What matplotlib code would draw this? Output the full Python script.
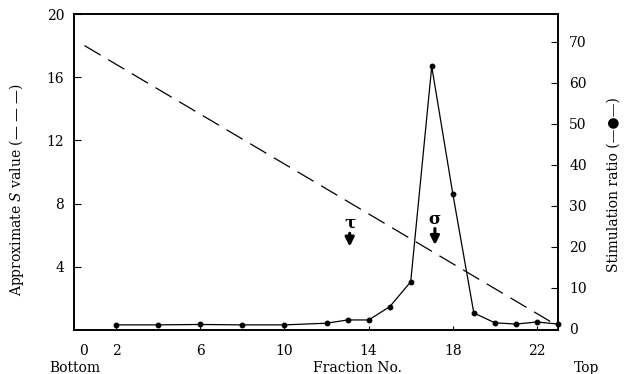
import matplotlib
matplotlib.use("Agg")
import matplotlib.pyplot as plt
import matplotlib.transforms as mtransforms

plt.rcParams['font.family'] = ['DejaVu Serif', 'DejaVu Sans']
plt.rcParams['mathtext.fontset'] = 'dejavuserif'

# stimulation ratio per fraction (right axis)
fraction = [2, 4, 6, 8, 10, 12, 13, 14, 15, 16, 17, 18, 19, 20, 21, 22, 23]
stim = [1.0, 1.0, 1.1, 1.0, 1.0, 1.4, 2.2, 2.2, 5.4, 11.5, 64, 33, 3.9, 1.5, 1.2, 1.7, 1.2]

# approximate S value gradient (left axis)
s_frac = [0.5, 23]
s_val = [18.0, 0.25]

# marker positions (tau, sigma) on the S axis
markers = [('τ', 13.1), ('σ', 17.15)]
marker_y = [(6.8, 6.3, 5.1), (7.0, 6.6, 5.2)]

xticks = [0, 2, 6, 10, 14, 18, 22]
lticks = [4, 8, 12, 16, 20]
rticks = [0, 10, 20, 30, 40, 50, 60, 70]

fig = plt.figure(figsize=(6.24, 3.74), dpi=100)
ax = fig.add_axes([74 / 624, 44 / 374, 484 / 624, 316 / 374])
ax2 = ax.twinx()

ax.plot(s_frac, s_val, color='black', lw=0.9, dashes=(15, 7))
ax2.plot(fraction, stim, color='black', lw=0.9, marker='o', ms=3.2, clip_on=False)

for (lab, x), (ty, a0, a1) in zip(markers, marker_y):
    ax.text(x, ty, lab, ha='center', va='center', fontsize=12, fontweight='bold')
    ax.annotate('', xy=(x, a1), xytext=(x, a0),
                arrowprops=dict(arrowstyle='-|>', lw=2.2, color='black', mutation_scale=13))

ax.set_xlim(0, 23)
ax.set_ylim(0, 20)
ax2.set_ylim(-0.25, 76.8)

ax.set_xticks(xticks)
ax.set_yticks(lticks)
ax2.set_yticks(rticks)
ax.tick_params(axis='x', direction='in', length=3, pad=10, labelsize=10)
ax.tick_params(axis='y', direction='in', length=5, pad=7, labelsize=10)
ax2.tick_params(axis='y', direction='in', length=5, pad=8, labelsize=10)

# the "0" sits a little right of the corner in the original
lab0 = ax.get_xticklabels()[0]
lab0.set_transform(lab0.get_transform() + mtransforms.ScaledTranslation(0.09, 0, fig.dpi_scale_trans))

for a in (ax, ax2):
    for sp in a.spines.values():
        sp.set_linewidth(1.2)

fig.text(17 / 624, 1 - 190 / 374, 'Approximate $S$ value (— — —)', rotation=90,
         ha='center', va='center', fontsize=10)
fig.text(614 / 624, 1 - 185 / 374, 'Stimulation ratio (—●—)', rotation=90,
         ha='center', va='center', fontsize=10)
fig.text(75 / 624, 1 - 368 / 374, 'Bottom', ha='center', va='center', fontsize=10)
fig.text(357 / 624, 1 - 368 / 374, 'Fraction No.', ha='center', va='center', fontsize=10)
fig.text(587 / 624, 1 - 368 / 374, 'Top', ha='center', va='center', fontsize=10)

fig.savefig('out.png', dpi=100)
